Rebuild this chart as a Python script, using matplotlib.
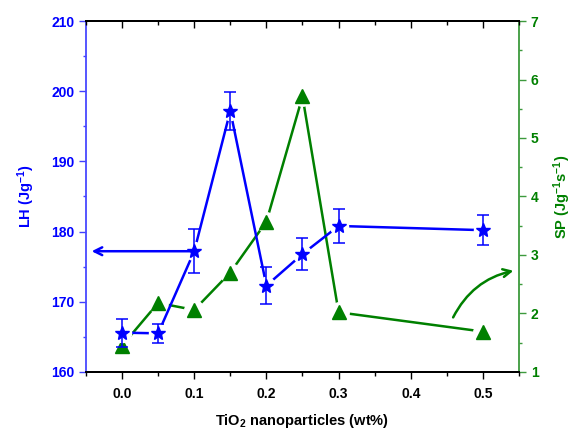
import matplotlib
matplotlib.use("Agg")
import matplotlib.pyplot as plt
from matplotlib.ticker import MultipleLocator

plt.rcParams['font.family'] = ['Liberation Sans', 'DejaVu Sans']
plt.rcParams['font.weight'] = 'bold'
plt.rcParams['axes.labelweight'] = 'bold'
plt.rcParams['mathtext.fontset'] = 'custom'
plt.rcParams['mathtext.rm'] = 'Liberation Sans:bold'
plt.rcParams['mathtext.bf'] = 'Liberation Sans:bold'
plt.rcParams['mathtext.default'] = 'bf'

# data
tio2 = [0.0, 0.05, 0.1, 0.15, 0.2, 0.25, 0.3, 0.5]
lh = [165.6, 165.5, 177.2, 197.2, 172.3, 176.8, 180.8, 180.2]
lh_err = [2.0, 1.4, 3.1, 2.7, 2.6, 2.3, 2.4, 2.1]
sp = [1.45, 2.18, 2.06, 2.70, 3.57, 5.71, 2.02, 1.69]

blau = '#0000ff'
gruen = '#008000'

fig = plt.figure(figsize=(5.77, 4.29), dpi=100)
ax = fig.add_axes([0.149, 0.133, 0.7505, 0.818])
ax2 = ax.twinx()
ax3 = ax.twiny()   # nur fuer die Ticks oben

# blaue Kurve mit Luecken an den Markern
ax.plot(tio2, lh, color=blau, lw=1.8, zorder=2)
ax.plot(tio2, lh, ls='none', marker='o', ms=13, mfc='white', mec='white', zorder=3)
ax.errorbar(tio2, lh, yerr=lh_err, fmt='none', ecolor=blau, elinewidth=1.1,
            capsize=4.5, capthick=1.1, zorder=4)
ax.plot(tio2, lh, ls='none', marker='*', ms=10, color=blau, zorder=5)

# gruene Kurve
ax2.plot(tio2, sp, color=gruen, lw=1.8, zorder=2)
ax2.plot(tio2, sp, ls='none', marker='o', ms=14, mfc='white', mec='white', zorder=3)
ax2.plot(tio2, sp, ls='none', marker='^', ms=10, color=gruen, zorder=5)

ax.set_zorder(ax2.get_zorder() + 1)
ax.patch.set_visible(False)
ax3.set_zorder(ax.get_zorder() + 1)
ax3.patch.set_visible(False)

ax.set_xlim(-0.05, 0.55)
ax3.set_xlim(-0.05, 0.55)
ax.set_ylim(160, 210)
ax2.set_ylim(1, 7)
ax.set_xticks([0.0, 0.1, 0.2, 0.3, 0.4, 0.5])
ax.set_xticklabels(['0.0', '0.1', '0.2', '0.3', '0.4', '0.5'])
ax.xaxis.set_minor_locator(MultipleLocator(0.05))
ax3.xaxis.set_major_locator(MultipleLocator(0.1))
ax3.xaxis.set_minor_locator(MultipleLocator(0.05))
ax.yaxis.set_major_locator(MultipleLocator(10))
ax.yaxis.set_minor_locator(MultipleLocator(5))
ax2.yaxis.set_major_locator(MultipleLocator(1))
ax2.yaxis.set_minor_locator(MultipleLocator(0.5))

ax.tick_params(axis='x', which='both', direction='out', labelsize=10, width=1, pad=6)
ax.tick_params(axis='x', which='major', length=5)
ax.tick_params(axis='x', which='minor', length=3)
ax3.tick_params(axis='x', which='both', direction='in', labeltop=False, width=1)
ax3.tick_params(axis='x', which='major', length=5)
ax3.tick_params(axis='x', which='minor', length=3)
ax.tick_params(axis='y', which='both', colors=blau, labelsize=10, width=1)
ax.tick_params(axis='y', which='major', length=5)
ax.tick_params(axis='y', which='minor', length=2.5)
ax2.tick_params(axis='y', which='both', colors=gruen, labelsize=10, width=1)
ax2.tick_params(axis='y', which='major', length=5)
ax2.tick_params(axis='y', which='minor', length=2.5)
ax.tick_params(axis='y', which='major', colors='#4040ff', labelcolor=blau)
ax.tick_params(axis='y', which='minor', colors='#4040ff')
ax2.tick_params(axis='y', which='both', colors='#3d9a3d', labelcolor=gruen)

ax.spines['left'].set_color('#4848ff')
ax2.spines['right'].set_color('#3d9a3d')
for a in (ax, ax3):
    a.spines['right'].set_visible(False)
    a.spines['left'].set_visible(False)
ax.spines['left'].set_visible(True)
ax2.spines['left'].set_visible(False)
for a in (ax, ax2, ax3):
    for s in a.spines.values():
        s.set_linewidth(1.3)

ax.set_ylabel('LH (Jg$^{-1}$)', color=blau, fontsize=10.5, labelpad=10)
ax2.set_ylabel('SP (Jg$^{-1}$s$^{-1}$)', color=gruen, fontsize=10.5, labelpad=9)
ax.set_xlabel('TiO$_2$ nanoparticles (wt%)', fontsize=10.5, labelpad=8)

# Pfeile zu den Achsen
ax.annotate('', xy=(-0.046, lh[2]), xytext=(tio2[2], lh[2]),
            arrowprops=dict(arrowstyle='->', color=blau, lw=1.8, mutation_scale=14),
            zorder=6)
ax2.annotate('', xy=(0.546, 2.74), xytext=(0.457, 1.89),
             arrowprops=dict(arrowstyle='->', color=gruen, lw=1.8, mutation_scale=14,
                             connectionstyle='arc3,rad=-0.25'),
             zorder=6)

fig.savefig('out.png', dpi=100)
